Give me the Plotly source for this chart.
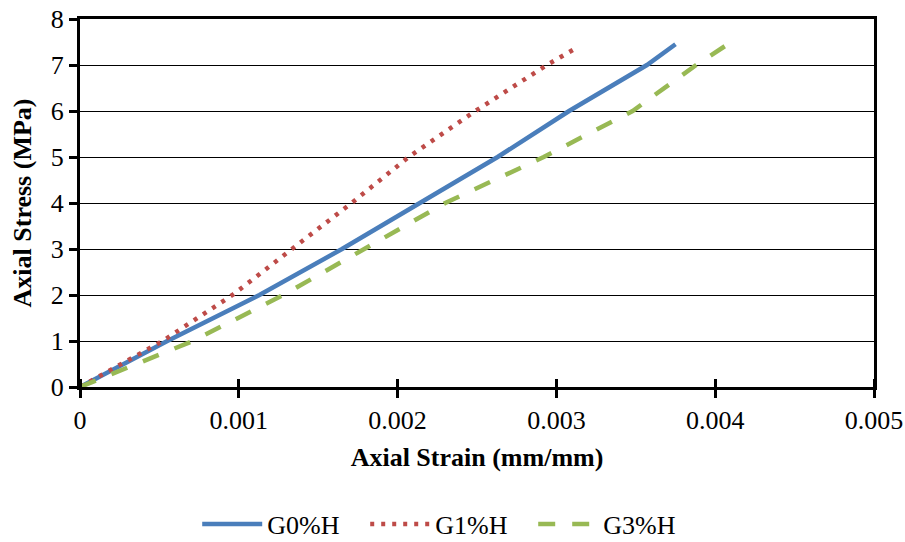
import plotly.graph_objects as go

g0_strain = [0, 0.00028, 0.00055, 0.00113, 0.00165, 0.00214, 0.00263, 0.00308, 0.00357, 0.00375]
g0_stress = [0, 0.5, 1, 2, 3, 4, 5, 6, 7, 7.45]
g1_strain = [0, 0.00026, 0.00052, 0.00096, 0.00134, 0.00171, 0.00207, 0.00249, 0.00294, 0.00314]
g1_stress = [0, 0.5, 1, 2, 3, 4, 5, 6, 7, 7.4]
g3_strain = [0, 0.00036, 0.00071, 0.00128, 0.00179, 0.0023, 0.00292, 0.00348, 0.00388, 0.00407]
g3_stress = [0, 0.5, 1, 2, 3, 4, 5, 6, 7, 7.43]

x_ticks = [0, 0.001, 0.002, 0.003, 0.004, 0.005]
x_labels = ["0", "0.001", "0.002", "0.003", "0.004", "0.005"]
y_ticks = [0, 1, 2, 3, 4, 5, 6, 7, 8]

FONT = "Liberation Serif, Times New Roman, serif"
FS = 26

fig = go.Figure()
fig.add_trace(go.Scatter(x=g0_strain, y=g0_stress, mode="lines", name="G0%H",
                         line=dict(color="#4a7ebb", width=4.5)))
fig.add_trace(go.Scatter(x=g1_strain, y=g1_stress, mode="lines", name="G1%H",
                         line=dict(color="#be4b48", width=4.5, dash="4px,7px")))
fig.add_trace(go.Scatter(x=g3_strain, y=g3_stress, mode="lines", name="G3%H",
                         line=dict(color="#98b954", width=4.5, dash="17px,17px")))

# inside half of the crossing tick marks (tiny offset so plotly keeps them)
inner_ticks = [v + 2e-7 for v in x_ticks]

fig.update_layout(
    width=905, height=542,
    margin=dict(l=80, r=31, t=19, b=155),
    plot_bgcolor="white", paper_bgcolor="white",
    font=dict(family=FONT, size=FS, color="black"),
    xaxis=dict(range=[0, 0.005], tickvals=x_ticks, ticktext=x_labels, automargin=False,
               showgrid=False, zeroline=False, showline=True, linecolor="black",
               linewidth=3, mirror=True, ticks="outside", ticklen=8, tickwidth=3,
               tickcolor="black",
               minor=dict(tickvals=inner_ticks, ticks="inside", ticklen=8, tickwidth=3,
                          tickcolor="black", showgrid=False),
               title=dict(text="<b>Axial Strain (mm/mm)</b>", font=dict(size=FS), standoff=14),
               tickfont=dict(size=FS)),
    yaxis=dict(range=[0, 8], tickvals=y_ticks, showgrid=True, gridcolor="black",
               gridwidth=1, zeroline=False, showline=True, linecolor="black",
               linewidth=3, mirror=True, ticks="outside", ticklen=8, tickwidth=3,
               tickcolor="black", automargin=False,
               title=dict(text="<b>Axial Stress (MPa)</b>", font=dict(size=FS), standoff=12),
               tickfont=dict(size=FS)),
    legend=dict(orientation="h", x=0.465, xanchor="center", yref="container", y=0.033,
                yanchor="middle", font=dict(size=FS), itemwidth=60, entrywidth=93,
                tracegroupgap=0),
    showlegend=True,
)

fig.write_html("out.html")
